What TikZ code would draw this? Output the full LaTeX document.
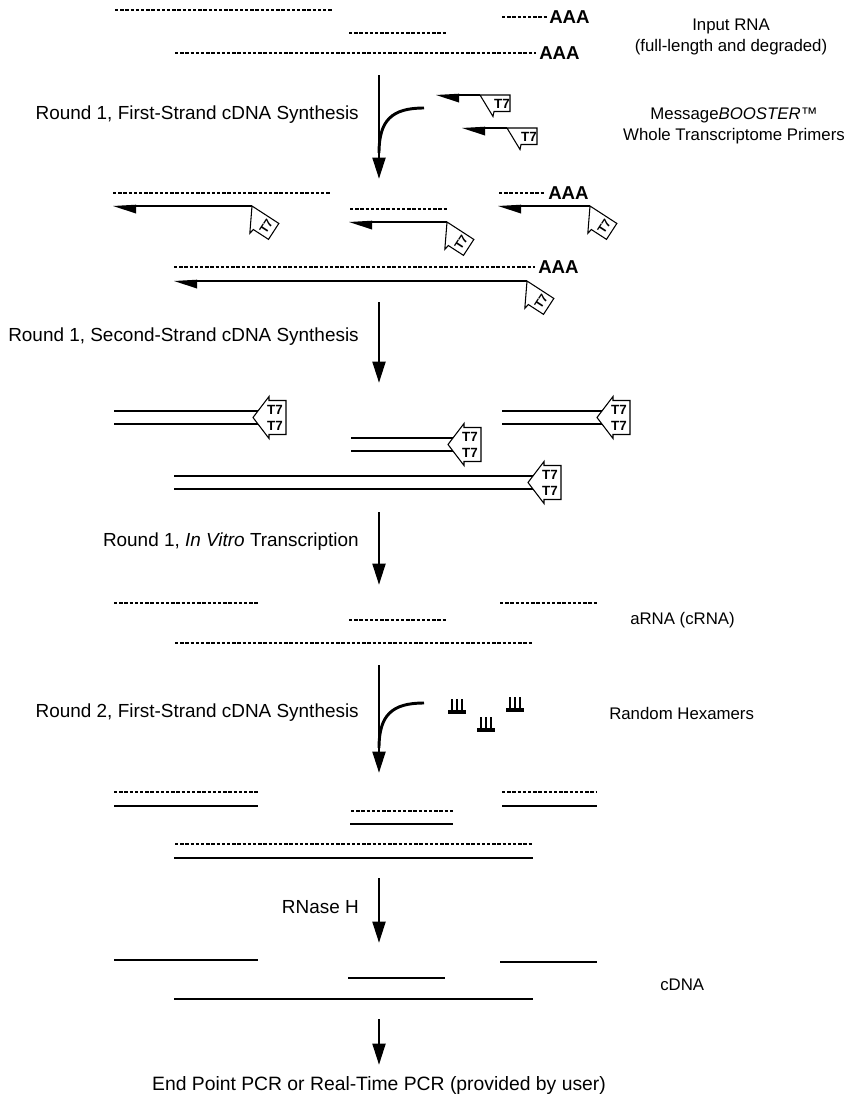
\documentclass[tikz,border=0pt]{standalone}
\usepackage{fontspec}
\setmainfont{Liberation Sans}
\usetikzlibrary{arrows.meta}

% RNA strand (dotted)
\newcommand\rnaline[3]{\draw[rna] (#1,#3) -- (#2,#3);}
% DNA strand (solid)
\newcommand\dnaline[3]{\draw[dna] (#1,#3) -- (#2,#3);}
% primer body with half arrow head: tip x, y, end x
\newcommand\primerline[3]{%
  \draw[primer] (#1+20,#2) -- (#3,#2);
  \fill (#1,#2) -- (#1+23,#2-1.3) -- (#1+23,#2+7.5) -- cycle;}
% free T7 tag: name, x, y
\newcommand\tagflag[3]{%
  \begin{scope}[shift={(#2,#3)}]
    \draw[tagbox] (0,0) -- (30,0) -- (30,16.5) -- (14,16.5) -- (13,21.5) -- cycle;
    \node[tsev] (#1) at (22,8.5) {T7};
  \end{scope}}
% T7 tag hanging from an annealed primer: name, x, y
\newcommand\hangflag[3]{%
  \begin{scope}[shift={(#2,#3)},rotate=-33]
    \draw[tagbox] (0,0) -- (32,0) -- (32,19) -- (14,19) -- (13,24) -- cycle;
    \node[tsev,font=\bfseries\fontsize{9}{9}\selectfont,rotate=57] (#1) at (23,9.5) {T7};
  \end{scope}}
% double-stranded cDNA with T7 promoter arrow: name, left x, tip x, upper y, lower y
\newcommand\dsdna[5]{%
  \draw[dna] (#2,#4) -- (#3+6,#4);
  \draw[dna] (#2,#5) -- (#3+6,#5);
  \begin{scope}[shift={(#3,{(#4+#5)/2})}]
    \draw[tagbox] (0,0) -- (16,-21) -- (16,-17) -- (33,-17) -- (33,17) -- (16,17) -- (16,21) -- cycle;
    \node[tsev] (#1a) at (22,-8) {T7};
    \node[tsev] (#1b) at (22,8.5) {T7};
  \end{scope}}
% random hexamer: x, base y
\newcommand\hexamer[2]{%
  \draw[line width=2.4pt] (#1,#2) -- (#1+18,#2);
  \draw[line width=0.8pt] (#1+4,#2) -- (#1+4,#2-13) (#1+9,#2) -- (#1+9,#2-13) (#1+14,#2) -- (#1+14,#2-13);}

\begin{document}
\begin{tikzpicture}[x=0.75pt,y=-0.75pt,
  rna/.style={line width=2pt, dash pattern=on 2.6pt off 1.3pt},
  dna/.style={line width=2.1pt},
  primer/.style={line width=2pt},
  flow/.style={line width=2.2pt,-{Triangle[length=16pt,width=9.5pt]}},
  merge/.style={line width=2.2pt},
  lbl/.style={font=\fontsize{14.2}{17}\selectfont, anchor=east, inner sep=0pt},
  side/.style={font=\fontsize{12.6}{15.8}\selectfont, inner sep=0pt, align=center},
  polyA/.style={font=\bfseries\fontsize{14}{14}\selectfont, anchor=west, inner sep=0pt},
  tsev/.style={font=\bfseries\fontsize{10}{10}\selectfont, inner sep=0pt},
  tagbox/.style={line width=0.8pt, fill=white, line join=miter}]

\useasboundingbox (0,0) rectangle (848,1100);

% ---------- input RNA ----------
\rnaline{115}{333}{10}
\rnaline{502}{547}{17}
\node[polyA] (aaa1) at (549,17) {AAA};
\rnaline{349}{446}{33}
\rnaline{175}{536}{53}
\node[polyA] (aaa2) at (539,53) {AAA};
\node[side] (inrna) at (731,37) {Input RNA\\(full-length and degraded)};

% ---------- round 1, first strand ----------
\coordinate (a1s) at (379,75);
\coordinate (a1e) at (379,179);
\coordinate (m1s) at (424,108);
\coordinate (m1e) at (379,153);
\draw[flow] (a1s) -- (a1e);
\draw[merge] (m1s) .. controls (392,108) and (379,120) .. (m1e);
\node[lbl] (lab1) at (359,115) {Round 1, First-Strand cDNA Synthesis};
\primerline{436}{95}{480}
\tagflag{pa}{480}{95}
\primerline{462}{128}{507}
\tagflag{pb}{507}{128}
\node[side] (wtp) at (734,126) {Message\textit{BOOSTER}™\\Whole Transcriptome Primers};

% ---------- RNA / first-strand hybrids ----------
\rnaline{113}{330}{193}
\primerline{113}{206}{252}
\hangflag{h1}{252}{206}
\rnaline{350}{447}{209}
\primerline{349}{222}{447}
\hangflag{h2}{447}{222}
\rnaline{499}{545}{193}
\node[polyA] (aaa3) at (548,193) {AAA};
\primerline{498}{206}{590}
\hangflag{h3}{590}{206}
\rnaline{174}{535}{267}
\node[polyA] (aaa4) at (538,267) {AAA};
\primerline{174}{281}{527}
\hangflag{h4}{527}{281}

% ---------- round 1, second strand ----------
\coordinate (a2s) at (379,302);
\coordinate (a2e) at (379,383);
\draw[flow] (a2s) -- (a2e);
\node[lbl] (lab2) at (359,337) {Round 1, Second-Strand cDNA Synthesis};

\dsdna{d1}{114}{253}{411}{424}
\dsdna{d2}{351}{448}{438}{451}
\dsdna{d3}{502}{597}{411}{424}
\dsdna{d4}{174}{528}{476}{489}

% ---------- round 1, in vitro transcription ----------
\coordinate (a3s) at (379,512);
\coordinate (a3e) at (379,585);
\draw[flow] (a3s) -- (a3e);
\node[lbl] (lab3) at (359,542) {Round 1, \textit{In Vitro} Transcription};

\rnaline{114}{258}{603}
\rnaline{500}{597}{603}
\rnaline{349}{446}{620}
\rnaline{175}{533}{643}
\node[side, anchor=west] (arna) at (630,620) {aRNA (cRNA)};

% ---------- round 2, first strand ----------
\coordinate (a4s) at (379,665);
\coordinate (a4e) at (379,773);
\coordinate (m4s) at (424,703);
\coordinate (m4e) at (379,748);
\draw[flow] (a4s) -- (a4e);
\draw[merge] (m4s) .. controls (392,703) and (379,715) .. (m4e);
\node[lbl] (lab4) at (359,713) {Round 2, First-Strand cDNA Synthesis};
\hexamer{448}{712}
\hexamer{477}{730}
\hexamer{506}{710}
\node[side, anchor=west] (hexa) at (609,713) {Random Hexamers};

\rnaline{114}{258}{792}
\dnaline{114}{258}{806}
\rnaline{351}{454}{811}
\dnaline{350}{453}{824}
\rnaline{502}{597}{792}
\dnaline{502}{597}{806}
\rnaline{175}{533}{844}
\dnaline{174}{533}{858}

% ---------- RNase H ----------
\coordinate (a5s) at (379,878);
\coordinate (a5e) at (379,943);
\draw[flow] (a5s) -- (a5e);
\node[lbl] (lab5) at (359,907) {RNase H};

\dnaline{114}{258}{960}
\dnaline{500}{597}{962}
\dnaline{348}{445}{978}
\dnaline{174}{533}{999}
\node[side, anchor=west] (cdna) at (660,985) {cDNA};

% ---------- PCR ----------
\coordinate (a6s) at (379,1019);
\coordinate (a6e) at (379,1065);
\draw[flow] (a6s) -- (a6e);
\node[font=\fontsize{14.5}{17}\selectfont, inner sep=0pt] (pcr) at (379,1085) {End Point PCR or Real-Time PCR (provided by user)};
\end{tikzpicture}
\end{document}
